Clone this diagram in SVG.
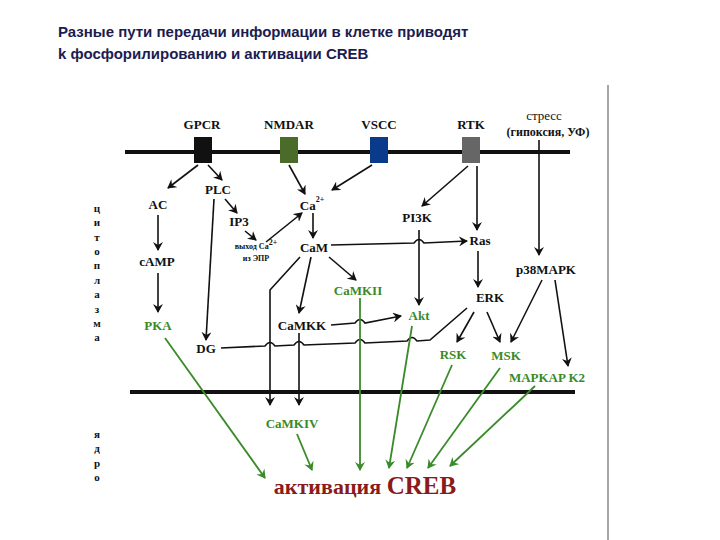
<svg xmlns="http://www.w3.org/2000/svg" width="720" height="540" viewBox="0 0 720 540">
<style>
.t{font-family:"Liberation Sans",Arial,sans-serif;font-weight:bold;font-size:15px;fill:#1c1c50}
.n{font-family:"Liberation Serif","Times New Roman",serif;font-weight:bold;font-size:13px;fill:#111;text-anchor:middle}
.g{fill:#3a8a2a}
.s{font-size:8px}
.v{font-family:"Liberation Serif",serif;font-weight:bold;font-size:11px;fill:#111;text-anchor:middle}
.k{stroke:#111;stroke-width:1.6;fill:none;marker-end:url(#ab)}
.kn{stroke:#111;stroke-width:1.6;fill:none}
.gr{stroke:#3a8a2a;stroke-width:1.8;fill:none;marker-end:url(#ag)}
</style>
<defs>
<marker id="ab" markerWidth="10" markerHeight="10" refX="8" refY="5" orient="auto" markerUnits="userSpaceOnUse"><path d="M0,0 L9,5 L0,10 L3,5 Z" fill="#111"/></marker>
<marker id="ag" markerWidth="10" markerHeight="10" refX="8" refY="5" orient="auto" markerUnits="userSpaceOnUse"><path d="M0,0 L9,5 L0,10 L3,5 Z" fill="#3a8a2a"/></marker>
</defs>
<rect width="720" height="540" fill="#fff"/>
<text class="t" x="58" y="37">Разные пути передачи информации в клетке приводят</text>
<text class="t" x="58" y="59">k фосфорилированию и активации CREB</text>
<line x1="608" y1="85" x2="608" y2="540" stroke="#888" stroke-width="1.5"/>
<line x1="125" y1="152" x2="570" y2="152" stroke="#111" stroke-width="4"/>
<line x1="130" y1="392" x2="575" y2="392" stroke="#111" stroke-width="4"/>
<g id="labels-side">
<g class="v"><text x="97" y="212">ц</text><text x="97" y="226">и</text><text x="97" y="241">т</text><text x="97" y="255">о</text><text x="97" y="269">п</text><text x="97" y="284">л</text><text x="97" y="298">а</text><text x="97" y="313">з</text><text x="97" y="327">м</text><text x="97" y="341">а</text>
<text x="97" y="438">я</text><text x="97" y="452">д</text><text x="97" y="467">р</text><text x="97" y="481">о</text></g>
</g>
<g id="GPCR"><rect x="194" y="137" width="18" height="26" fill="#111"/><text class="n" x="202" y="129">GPCR</text></g>
<g id="NMDAR"><rect x="280" y="137" width="18" height="26" fill="#4a6b2a"/><text class="n" x="289" y="129">NMDAR</text></g>
<g id="VSCC"><rect x="370" y="137" width="18" height="26" fill="#0a3a8a"/><text class="n" x="379" y="129">VSCC</text></g>
<g id="RTK"><rect x="462" y="137" width="18" height="26" fill="#666"/><text class="n" x="471" y="129">RTK</text></g>
<g id="stress"><text class="n" x="544" y="120" style="font-weight:normal">стресс</text><text class="n" x="548" y="136" style="font-size:12px">(гипоксия, УФ)</text></g>
<g id="AC"><text class="n" x="158" y="209">AC</text></g>
<g id="PLC"><text class="n" x="218" y="194">PLC</text></g>
<g id="Ca"><text class="n" x="312" y="210">Ca<tspan class="s" dy="-8">2+</tspan></text></g>
<g id="IP3"><text class="n" x="239" y="226">IP3</text></g>
<g id="ER"><text class="n s" x="256" y="249">выход Ca<tspan dy="-4">2+</tspan></text><text class="n s" x="256" y="261">из ЭПР</text></g>
<g id="CaM"><text class="n" x="314" y="252">CaM</text></g>
<g id="cAMP"><text class="n" x="157" y="266">cAMP</text></g>
<g id="CaMKII"><text class="n g" x="358" y="295">CaMKII</text></g>
<g id="PKA"><text class="n g" x="158" y="330">PKA</text></g>
<g id="CaMKK"><text class="n" x="302" y="330">CaMKK</text></g>
<g id="DG"><text class="n" x="206" y="353">DG</text></g>
<g id="PI3K"><text class="n" x="417" y="222">PI3K</text></g>
<g id="Ras"><text class="n" x="480" y="245">Ras</text></g>
<g id="p38MAPK"><text class="n" x="546" y="274">p38MAPK</text></g>
<g id="ERK"><text class="n" x="490" y="302">ERK</text></g>
<g id="Akt"><text class="n g" x="419" y="320">Akt</text></g>
<g id="RSK"><text class="n g" x="453" y="359">RSK</text></g>
<g id="MSK"><text class="n g" x="506" y="360">MSK</text></g>
<g id="MAPKAPK2"><text class="n g" x="547" y="382">MAPKAP K2</text></g>
<g id="CaMKIV"><text class="n g" x="292" y="428">CaMKIV</text></g>
<g id="CREB"><text x="365" y="494" text-anchor="middle" style="font-family:'Liberation Serif',serif;font-weight:bold;font-size:22px;fill:#8b1a1a">активация <tspan style="font-size:25px">CREB</tspan></text></g>
<g id="connectors">
<path class="k" d="M198,165 L168,188"/>
<path class="k" d="M208,165 L222,180"/>
<path class="k" d="M214,199 L206,340"/>
<path class="k" d="M225,199 L237,213"/>
<path class="k" d="M245,231 L256,240"/>
<path class="k" d="M266,242 L302,213"/>
<path class="k" d="M289,165 L305,194"/>
<path class="k" d="M372,165 L332,190"/>
<path class="k" d="M313,213 L313,238"/>
<path class="k" d="M158,215 L158,250"/>
<path class="k" d="M158,273 L158,312"/>
<path class="k" d="M331,245 L414,243 Q419,236 424,243 L467,241"/>
<path class="k" d="M300,257 L270,290 L270,405"/>
<path class="k" d="M311,257 L299,313"/>
<path class="k" d="M329,257 L356,280"/>
<path class="k" d="M331,325 L355,323 Q360,316 365,323 L401,316"/>
<path class="k" d="M299,333 L299,405"/>
<path class="kn" d="M221,348 L265,346 Q270,339 275,346 L294,345 Q299,338 304,345 L355,343 Q360,336 365,343 L407,341 Q412,334 417,341 L430,340 L467,308"/>
<path class="k" d="M468,166 L422,206"/>
<path class="k" d="M477,166 L477,230"/>
<path class="k" d="M419,230 L419,305"/>
<path class="k" d="M539,140 L539,255"/>
<path class="k" d="M478,251 L478,287"/>
<path class="k" d="M474,312 L457,342"/>
<path class="k" d="M487,312 L500,342"/>
<path class="k" d="M542,280 L511,342"/>
<path class="k" d="M555,280 L568,366"/>
<path class="gr" d="M165,338 L265,478"/>
<path class="gr" d="M297,434 L312,470"/>
<path class="gr" d="M360,298 L360,470"/>
<path class="gr" d="M412,326 L389,468"/>
<path class="gr" d="M452,365 L407,468"/>
<path class="gr" d="M500,368 L428,468"/>
<path class="gr" d="M535,386 L450,466"/>
</g>
</svg>
